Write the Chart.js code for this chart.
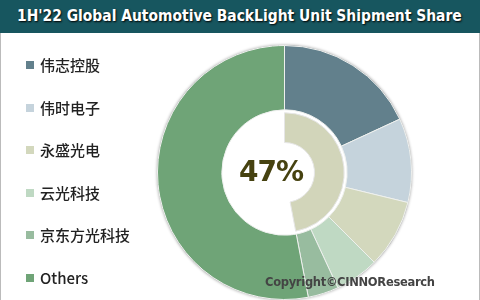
<!DOCTYPE html>
<html>
<head>
<meta charset="utf-8">
<script src="https://cdn.jsdelivr.net/npm/chart.js@4"></script>
<style>
  html, body { margin: 0; padding: 0; }
  body { width: 480px; height: 300px; position: relative; overflow: hidden; background: #fff; font-family: "Noto Sans CJK SC", "Noto Sans", sans-serif; }
  #frame { position: absolute; left: 0; top: 0; width: 478px; height: 300px; border-left: 1px solid #bbb; border-right: 1px solid #bbb; }
  #title { position: absolute; left: 0; top: 0; width: 480px; height: 33px; background: #17565f; z-index: 3; }
  #titleText { position: absolute; left: 17px; top: 0; color: #fff; font: bold 15.5px "DejaVu Sans", sans-serif; line-height: 33px; white-space: nowrap; text-shadow: 1px 1px 2px #000; transform-origin: 0 50%; }
  #chartBox { position: absolute; left: 0; top: 0; width: 480px; height: 300px; }
  #legend { position: absolute; left: 22px; top: 54px; z-index: 2; }
  .item { height: 42.5px; font-size: 15px; font-weight: 500; color: #222; display: flex; align-items: flex-start; }
  .sw { width: 8px; height: 8px; margin: 7px 6px 0 4px; }
  #center { position: absolute; left: 231px; top: 155px; width: 80px; text-align: center; font: bold 28px "DejaVu Sans", sans-serif; letter-spacing: -1px; color: #464210; z-index: 2; }
  #copy { position: absolute; left: 265px; top: 275px; font: bold 11.5px "DejaVu Sans", sans-serif; color: #444; z-index: 2; letter-spacing: -0.3px; }
</style>
</head>
<body>
<div id="frame"></div>
<div id="title"><span id="titleText">1H'22 Global Automotive BackLight Unit Shipment Share</span></div>
<div id="chartBox"><canvas id="shareChart" width="480" height="300"></canvas></div>
<div id="legend"></div>
<div id="center">47%</div>
<div id="copy">Copyright©CINNOResearch</div>
<script>
// companies, outer ring
const labels = ["伟志控股", "伟时电子", "永盛光电", "云光科技", "京东方光科技", "Others"];
const shares = [18.1, 10.7, 8.7, 5.6, 3.9, 53.0];
const colors = ["#62808c", "#c5d3dc", "#d3d8bd", "#bfd9c3", "#98bc9f", "#6fa477"];

// inner ring: top five combined vs rest
const topFiveShare = [47, 53];
const topFiveColors = ["#d2d5ba", "rgba(0,0,0,0)"];

// squeeze title to the width it has in the picture
const tt = document.getElementById("titleText");
tt.style.transform = "scaleX(" + (445 / tt.offsetWidth) + ")";

const legend = document.getElementById("legend");
labels.forEach((name, i) => {
  const row = document.createElement("div");
  row.className = "item";
  row.innerHTML = '<span class="sw" style="background:' + colors[i] + '"></span>' + name;
  legend.appendChild(row);
});

const ringShadow = {
  id: "ringShadow",
  beforeDatasetsDraw(chart) {
    const arc = chart.getDatasetMeta(0).data[0];
    if (!arc) return;
    const ctx = chart.ctx;
    ctx.save();
    ctx.beginPath();
    ctx.arc(arc.x, arc.y, arc.outerRadius - 0.5, 0, Math.PI * 2);
    ctx.shadowColor = "rgba(0,0,0,0.4)";
    ctx.shadowBlur = 3;
    ctx.strokeStyle = "#bbb";
    ctx.lineWidth = 2;
    ctx.stroke();
    ctx.restore();
  }
};

new Chart(document.getElementById("shareChart"), {
  type: "doughnut",
  data: {
    labels: labels,
    datasets: [
      {
        data: shares,
        backgroundColor: colors,
        borderColor: "#eef0ee",
        borderWidth: 1,
        weight: 65,
      },
      {
        data: [100],
        backgroundColor: ["rgba(0,0,0,0)"],
        borderWidth: 0,
        weight: 3,
      },
      {
        data: topFiveShare,
        backgroundColor: topFiveColors,
        borderColor: ["#e6e6e6", "rgba(0,0,0,0)"],
        borderWidth: [1, 0],
        weight: 30,
      },
    ],
  },
  options: {
    responsive: false,
    animation: false,
    cutout: 30,
    layout: { padding: { left: 157, right: 68, top: 45, bottom: 0 } },
    plugins: {
      legend: { display: false },
      tooltip: { enabled: false },
    },
  },
  plugins: [ringShadow],
});
</script>
</body>
</html>
